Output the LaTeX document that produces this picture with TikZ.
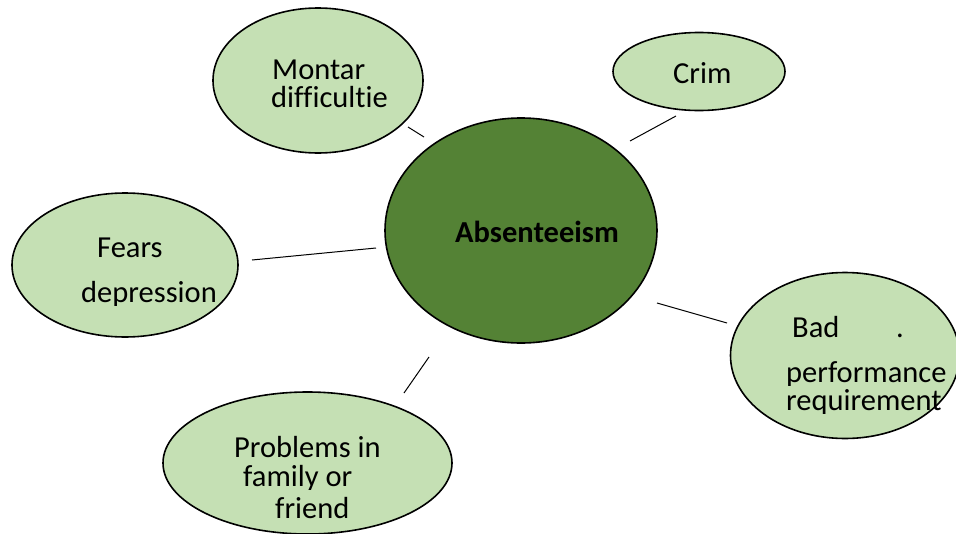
\documentclass[tikz,border=0pt]{standalone}
\usepackage{fontspec}
\setmainfont[Ligatures={NoCommon}]{Carlito}
\usetikzlibrary{shapes.geometric}
\definecolor{lightgr}{HTML}{C5E0B4}
\definecolor{darkgr}{HTML}{548235}
\tikzset{
  bubble/.style={ellipse, draw=black, line width=1.6pt, fill=lightgr, inner sep=0pt},
  centre/.style={ellipse, draw=black, line width=1.6pt, fill=darkgr, inner sep=0pt},
  lbl/.style={anchor=base west, inner sep=0pt, font=\fontsize{30.5}{31}\selectfont},
  link/.style={draw=black, line width=1pt}
}
\begin{document}
\begin{tikzpicture}[x=1pt,y=-1pt]
\useasboundingbox (0,0) rectangle (956,533);
\fill[white] (0,0) rectangle (956,533);
% ellipses
\node[centre, minimum width=272pt, minimum height=225pt] (abs) at (521,230.5) {};
\node[bubble, minimum width=210pt, minimum height=145pt] (mon) at (318,80.5) {};
\node[bubble, minimum width=172pt, minimum height=78pt] (crim) at (699,71.5) {};
\node[bubble, minimum width=226pt, minimum height=144pt] (fear) at (125,265) {};
\node[bubble, minimum width=229pt, minimum height=166pt] (bad) at (845,355.5) {};
\node[bubble, minimum width=289pt, minimum height=142pt] (prob) at (307.5,463) {};
% texts
\node[lbl] (t1) at (272,79) {Montar};
\node[lbl] (t2) at (271,107) {difficultie};
\node[lbl] (t3) at (673,83) {Crim};
\node[lbl] (t4) at (97,257) {Fears};
\begin{scope}
  \clip (60,260) rectangle (240,305);
  \node[lbl] (t5) at (81,302) {depression};
\end{scope}
\node[lbl] (t6) at (792,337) {Bad};
\node[lbl] (t7) at (896,337) {.};
\begin{scope}
  \clip (770,350) rectangle (956,385);
  \node[lbl] (t8) at (786,382) {performance};
\end{scope}
\begin{scope}
  \clip (770,386) rectangle (956,413);
  \node[lbl] (t9) at (786,410) {requirement};
\end{scope}
\node[lbl] (t10) at (234,457) {Problems in};
\begin{scope}
  \clip (220,462) rectangle (400,489);
  \node[lbl] (t11) at (243,486) {family or};
\end{scope}
\node[lbl] (t12) at (275,518) {friend};
\node[lbl, font=\fontsize{30.5}{31}\selectfont\bfseries] (t0) at (455,242) {Absenteeism};
% connectors (free segments between the ellipses)
\coordinate (m1) at (408,127); \coordinate (m2) at (424,137);
\coordinate (c1) at (630,141); \coordinate (c2) at (676,116);
\coordinate (f1) at (252,260); \coordinate (f2) at (376,248);
\coordinate (b1) at (657,303); \coordinate (b2) at (727,323);
\coordinate (p1) at (404,393); \coordinate (p2) at (429,357);
\draw[link] (m1) -- (m2);
\draw[link] (c1) -- (c2);
\draw[link] (f1) -- (f2);
\draw[link] (b1) -- (b2);
\draw[link] (p1) -- (p2);
\end{tikzpicture}
\end{document}
